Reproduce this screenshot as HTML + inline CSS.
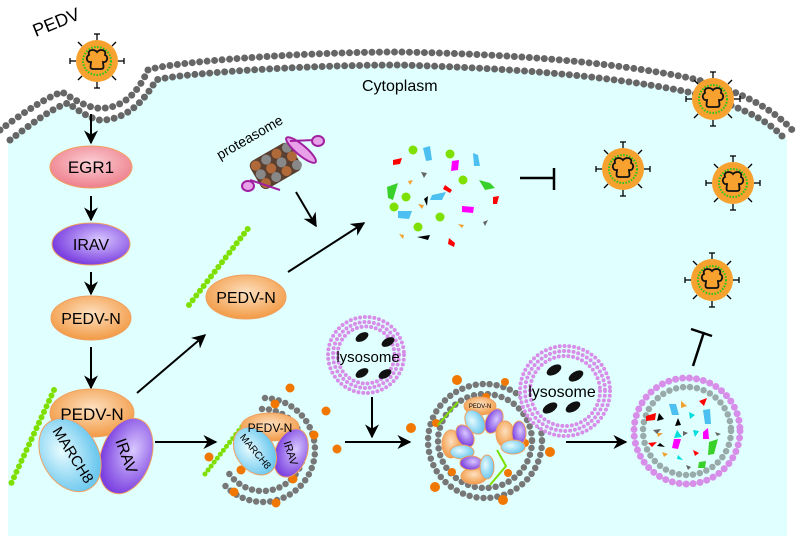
<!DOCTYPE html>
<html><head><meta charset="utf-8"><style>
html,body{margin:0;padding:0;background:#fff}
svg{display:block}
text{font-family:"Liberation Sans",sans-serif}
</style></head><body>
<svg width="797" height="536" viewBox="0 0 797 536" xmlns="http://www.w3.org/2000/svg">
<defs>
<radialGradient id="gp" cx="50%" cy="40%" r="60%"><stop offset="0" stop-color="#fbd0d6"/><stop offset="1" stop-color="#ee7f8c"/></radialGradient>
<radialGradient id="gv" cx="60%" cy="40%" r="60%"><stop offset="0" stop-color="#d9c8ff"/><stop offset="1" stop-color="#7a3fe0"/></radialGradient>
<radialGradient id="go" cx="50%" cy="40%" r="60%"><stop offset="0" stop-color="#fde0c0"/><stop offset="1" stop-color="#f29a44"/></radialGradient>
<radialGradient id="gb" cx="40%" cy="40%" r="60%"><stop offset="0" stop-color="#e6fbff"/><stop offset="1" stop-color="#6cc8ee"/></radialGradient>
<marker id="ar" viewBox="0 0 10 10" refX="9" refY="5" markerWidth="7" markerHeight="7" markerUnits="userSpaceOnUse" orient="auto"><path d="M0,0 L10,5 L0,10 L3,5z" fill="#000"/></marker>
<marker id="ar2" viewBox="0 0 10 10" refX="9" refY="5" markerWidth="14" markerHeight="14" markerUnits="userSpaceOnUse" orient="auto"><path d="M0,0 L10,5 L0,10 L3,5z" fill="#000"/></marker>
<g id="vir">
 <g stroke="#000" stroke-width="1.3">
  <line x1="0" y1="-21" x2="0" y2="-27"/><line x1="0" y1="21" x2="0" y2="27"/><line x1="-21" y1="0" x2="-27" y2="0"/><line x1="21" y1="0" x2="27" y2="0"/>
  <line x1="15" y1="-15" x2="19" y2="-19"/><line x1="-15" y1="-15" x2="-19" y2="-19"/><line x1="15" y1="15" x2="19" y2="19"/><line x1="-15" y1="15" x2="-19" y2="19"/>
  <line x1="-3" y1="-27" x2="3" y2="-27"/><line x1="-3" y1="27" x2="3" y2="27"/><line x1="-27" y1="-3" x2="-27" y2="3"/><line x1="27" y1="-3" x2="27" y2="3"/>
 </g>
 <circle r="21" fill="#f7a12e"/>
 <circle r="14" fill="none" stroke="#22c820" stroke-width="2" stroke-dasharray="1.5 1.5"/>
 <path d="M-8,-6 C-10,-12 -2,-12 0,-9 C2,-12 10,-12 8,-6 C12,-4 10,2 6,1 C6,4 8,8 4,8 L-4,8 C-8,8 -6,4 -6,1 C-10,2 -12,-4 -8,-6z" fill="none" stroke="#111" stroke-width="1.8"/>
</g>
</defs>

<path d="M8,140 L10,138 C40,120 60,103 68,103 C80,110 95,122 105,120 C125,118 140,105 155,78 C170,72 300,64 400,65 C500,68 600,74 690,92 C740,104 770,118 787,140 L787,536 L8,536z" fill="#e0ffff"/>
<g fill="none" stroke="#666" stroke-width="7" stroke-linecap="round" stroke-dasharray="0 7.5">
<path d="M0,130 C20,115 45,98 62,92 C75,100 90,110 105,108 C125,106 138,92 148,70 C170,62 300,52 400,52 C500,54 600,60 690,78 C740,90 775,110 794,132"/>
<path d="M10,140 C30,125 52,108 68,103 C80,112 95,122 105,120 C125,118 142,105 156,80 C175,74 300,65 400,65 C500,68 600,74 688,92 C735,104 765,118 782,136"/>
</g>
<use href="#vir" x="97" y="61"/>
<text x="32" y="30" font-size="18" transform="rotate(-22 52 24)">PEDV</text>
<text x="362" y="91" font-size="16">Cytoplasm</text>

<g stroke="#000" stroke-width="2" marker-end="url(#ar2)">
<line x1="91" y1="114" x2="91" y2="143"/>
<line x1="91" y1="196" x2="91" y2="220"/>
<line x1="91" y1="272" x2="91" y2="294"/>
<line x1="91" y1="347" x2="91" y2="388"/>
<line x1="137" y1="393" x2="205" y2="335"/>
<line x1="288" y1="272" x2="364" y2="223"/>
<line x1="296" y1="192" x2="316" y2="226"/>
<line x1="155" y1="442" x2="216" y2="442"/>
<line x1="372" y1="397" x2="372" y2="437"/>
<line x1="345" y1="442" x2="410" y2="442"/>
<line x1="566" y1="442" x2="626" y2="442"/>
</g>
<ellipse cx="91" cy="167" rx="41" ry="21" fill="url(#gp)" stroke="#f0a060"/>
<text x="91" y="173" font-size="17" text-anchor="middle">EGR1</text>
<ellipse cx="91" cy="244" rx="39" ry="21" fill="url(#gv)" stroke="#f0a060"/>
<text x="91" y="250" font-size="16" text-anchor="middle" fill="#000">IRAV</text>
<ellipse cx="91" cy="318" rx="40" ry="22" fill="url(#go)" stroke="#f0a060"/>
<text x="91" y="324" font-size="16" text-anchor="middle">PEDV-N</text>

<line x1="54" y1="390" x2="10" y2="486" stroke="#7ee000" stroke-width="6" stroke-linecap="round" stroke-dasharray="0 6"/>
<ellipse cx="92" cy="413" rx="42" ry="24" fill="url(#go)" stroke="#f0a060"/>
<ellipse cx="126" cy="456" rx="25" ry="39" transform="rotate(20 126 456)" fill="url(#gv)" stroke="#f0a060"/>
<ellipse cx="70" cy="455" rx="28" ry="39" transform="rotate(-30 70 455)" fill="url(#gb)" stroke="#f0a060"/>
<text x="92" y="420" font-size="17" text-anchor="middle">PEDV-N</text>
<text x="73" y="460" font-size="15" text-anchor="middle" transform="rotate(58 73 455)">MARCH8</text>
<text x="126" y="461" font-size="16" text-anchor="middle" transform="rotate(70 126 456)">IRAV</text>

<line x1="189" y1="305" x2="250" y2="226" stroke="#7ee000" stroke-width="6" stroke-linecap="round" stroke-dasharray="0 6"/>
<ellipse cx="246" cy="297" rx="40" ry="22" fill="url(#go)" stroke="#f0a060"/>
<text x="246" y="303" font-size="16" text-anchor="middle">PEDV-N</text>

<text x="220" y="160" font-size="14" transform="rotate(-30 220 160)">proteasome</text>
<g transform="rotate(-30 275 165)">
<rect x="252" y="150" width="46" height="32" rx="6" fill="#5a4030"/>
<g fill="#b06a3a">
<circle cx="258" cy="156" r="5"/><circle cx="270" cy="156" r="5" fill="#888"/><circle cx="282" cy="156" r="5"/><circle cx="294" cy="156" r="5" fill="#888"/>
<circle cx="258" cy="166" r="5" fill="#888"/><circle cx="270" cy="166" r="5"/><circle cx="282" cy="166" r="5" fill="#888"/><circle cx="294" cy="166" r="5"/>
<circle cx="258" cy="176" r="5"/><circle cx="270" cy="176" r="5" fill="#888"/><circle cx="282" cy="176" r="5"/><circle cx="294" cy="176" r="5" fill="#888"/>
</g>
</g>
<g stroke="#a020a0" stroke-width="2" fill="#e8a0e8">
<ellipse cx="301" cy="150" rx="5" ry="19" transform="rotate(-50 301 150)"/>
<line x1="290" y1="141" x2="315" y2="140"/><ellipse cx="318" cy="141" rx="6" ry="5"/>
<line x1="250" y1="180" x2="280" y2="190"/><ellipse cx="248" cy="186" rx="6" ry="5"/>
</g>

<g>
<circle cx="413" cy="150" r="4.5" fill="#7ee000"/><circle cx="450" cy="154" r="4.5" fill="#7ee000"/><circle cx="463" cy="180" r="4.5" fill="#7ee000"/>
<circle cx="406" cy="197" r="4.5" fill="#7ee000"/><circle cx="394" cy="207" r="4.5" fill="#7ee000"/><circle cx="440" cy="217" r="4.5" fill="#7ee000"/><circle cx="418" cy="227" r="4.5" fill="#7ee000"/>
<polygon points="423,148 430,146 432,160 426,161" fill="#4cc0f0"/><polygon points="473,153 478,155 480,166 474,166" fill="#4cc0f0"/>
<polygon points="432,195 446,192 442,200 430,200" fill="#4cc0f0"/><polygon points="398,211 412,211 409,219 398,218" fill="#4cc0f0"/>
<polygon points="393,160 402,158 400,164 393,165" fill="#f00"/><polygon points="445,185 452,190 450,193 443,189" fill="#f00"/><polygon points="493,197 499,196 497,204 493,204" fill="#f00"/><polygon points="449,238 455,243 454,247 448,244" fill="#f00"/>
<polygon points="452,161 459,160 458,170 451,171" fill="#f0f"/><polygon points="462,206 474,207 473,213 462,212" fill="#f0f"/>
<polygon points="479,180 490,183 495,188 485,190" fill="#3ad02a"/><polygon points="387,187 398,183 393,200 388,198" fill="#3ad02a"/>
<polygon points="418,204 424,205 422,209" fill="#f0a030"/><polygon points="408,181 413,180 410,185" fill="#f0a030"/><polygon points="458,224 464,225 462,228" fill="#f0a030"/><polygon points="399,234 404,235 403,239" fill="#f0a030"/>
<polygon points="421,172 427,173 424,178" fill="#666"/><polygon points="483,222 488,220 485,226" fill="#666"/>
<polygon points="424,199 428,196 427,206" fill="#000"/><polygon points="417,237 430,235 428,240" fill="#000"/>
</g>
<g stroke="#000" stroke-width="2.5"><line x1="520" y1="178" x2="553" y2="178"/><line x1="554" y1="168" x2="554" y2="190"/>
<line x1="693" y1="366" x2="704" y2="332"/><line x1="691" y1="329" x2="712" y2="336"/></g>

<use href="#vir" x="713" y="99"/>
<use href="#vir" x="623" y="169"/>
<use href="#vir" x="733" y="183"/>
<use href="#vir" x="712" y="280"/>

<!-- autophagosome -->
<g fill="none" stroke="#777" stroke-width="6.5" stroke-linecap="round" stroke-dasharray="0 7">
<path d="M265,398 A52,52 0 1 1 222,482"/>
<path d="M262,409 A41,41 0 1 1 228,472"/>
</g>
<line x1="205" y1="474" x2="247" y2="420" stroke="#7ee000" stroke-width="5" stroke-linecap="round" stroke-dasharray="0 5"/>
<g fill="#f07800"><circle cx="290" cy="388" r="4.5"/><circle cx="275" cy="404" r="4.5"/><circle cx="326" cy="411" r="4.5"/><circle cx="314" cy="435" r="4.5"/><circle cx="337" cy="449" r="4.5"/><circle cx="293" cy="479" r="4.5"/><circle cx="241" cy="470" r="4.5"/><circle cx="209" cy="457" r="4.5"/><circle cx="234" cy="492" r="4.5"/><circle cx="276" cy="503" r="4.5"/></g>
<ellipse cx="270" cy="427" rx="29" ry="14" fill="url(#go)" stroke="#f0a060"/>
<ellipse cx="291" cy="453" rx="16" ry="25" transform="rotate(20 291 453)" fill="url(#gv)" stroke="#f0a060"/>
<ellipse cx="255" cy="451" rx="19" ry="26" transform="rotate(-35 255 451)" fill="url(#gb)" stroke="#f0a060"/>
<text x="270" y="432" font-size="12" text-anchor="middle">PEDV-N</text>
<text x="256" y="455" font-size="10" text-anchor="middle" transform="rotate(50 256 451)">MARCH8</text>
<text x="291" y="457" font-size="11" text-anchor="middle" transform="rotate(72 291 453)">IRAV</text>

<!-- lysosome 1 -->
<g fill="none" stroke="#d78ee8" stroke-width="4" stroke-linecap="round" stroke-dasharray="0 4.8"><circle cx="366" cy="355" r="38"/><circle cx="366" cy="355" r="33"/><circle cx="366" cy="355" r="28.5"/></g>
<g fill="#111"><ellipse cx="362" cy="337" rx="7" ry="4" transform="rotate(-30 362 337)"/><ellipse cx="388" cy="342" rx="7" ry="4" transform="rotate(-30 388 342)"/><ellipse cx="362" cy="373" rx="7" ry="4" transform="rotate(-30 362 373)"/><ellipse cx="385" cy="374" rx="7" ry="4" transform="rotate(-30 385 374)"/></g>
<text x="368" y="362" font-size="15" text-anchor="middle">lysosome</text>

<!-- autolysosome -->
<g fill="none" stroke="#777" stroke-width="6.5" stroke-linecap="round" stroke-dasharray="0 7"><circle cx="485" cy="441" r="57"/><circle cx="485" cy="441" r="47"/></g>
<g fill="#f07800"><circle cx="457" cy="380" r="5"/><circle cx="505" cy="382" r="4"/><circle cx="411" cy="428" r="5"/><circle cx="436" cy="423" r="4"/><circle cx="550" cy="452" r="5"/><circle cx="525" cy="443" r="4"/><circle cx="435" cy="487" r="5"/><circle cx="508" cy="473" r="4"/><circle cx="503" cy="500" r="5"/><circle cx="486" cy="397" r="4"/><circle cx="452" cy="472" r="4"/></g>
<g stroke="#7ee000" stroke-width="2" fill="none"><path d="M458,402 L438,425"/><path d="M490,485 L506,466 L497,450"/></g>
<g font-size="6" text-anchor="middle">
<ellipse cx="480" cy="406" rx="16" ry="9" fill="url(#go)" stroke="#f0a060"/>
<ellipse cx="494" cy="421" rx="8" ry="13" transform="rotate(25 494 421)" fill="url(#gv)" stroke="#f0a060"/>
<ellipse cx="475" cy="422" rx="9" ry="13" transform="rotate(-30 475 422)" fill="url(#gb)" stroke="#f0a060"/>
<text x="480" y="408">PEDV-N</text>
<ellipse cx="451" cy="444" rx="9" ry="14" fill="url(#go)" stroke="#f0a060"/>
<ellipse cx="465" cy="436" rx="8" ry="12" transform="rotate(-30 465 436)" fill="url(#gv)" stroke="#f0a060"/>
<ellipse cx="462" cy="452" rx="12" ry="7" fill="url(#gb)" stroke="#f0a060"/>
<ellipse cx="505" cy="434" rx="9" ry="13" fill="url(#go)" stroke="#f0a060"/>
<ellipse cx="519" cy="433" rx="7" ry="12" fill="url(#gv)" stroke="#f0a060"/>
<ellipse cx="513" cy="447" rx="12" ry="7" fill="url(#gb)" stroke="#f0a060"/>
<ellipse cx="474" cy="476" rx="13" ry="8" fill="url(#go)" stroke="#f0a060"/>
<ellipse cx="471" cy="463" rx="11" ry="7" fill="url(#gv)" stroke="#f0a060"/>
<ellipse cx="487" cy="467" rx="7" ry="12" fill="url(#gb)" stroke="#f0a060"/>
</g>
<!-- lysosome 2 -->
<circle cx="565" cy="391" r="45" fill="#e0ffff"/>
<g fill="none" stroke="#d78ee8" stroke-width="4" stroke-linecap="round" stroke-dasharray="0 4.8"><circle cx="565" cy="391" r="45"/><circle cx="565" cy="391" r="40"/><circle cx="565" cy="391" r="35"/></g>
<g fill="#111"><ellipse cx="554" cy="370" rx="8" ry="4.5" transform="rotate(-30 554 370)"/><ellipse cx="576" cy="376" rx="8" ry="4.5" transform="rotate(-30 576 376)"/><ellipse cx="550" cy="408" rx="8" ry="4.5" transform="rotate(-30 550 408)"/><ellipse cx="573" cy="407" rx="8" ry="4.5" transform="rotate(-30 573 407)"/></g>
<text x="562" y="397" font-size="16" text-anchor="middle">lysosome</text>

<!-- final degradation -->
<g fill="none" stroke-linecap="round" stroke-dasharray="0 7"><circle cx="687" cy="431" r="53" stroke="#d78ee8" stroke-width="7"/><circle cx="687" cy="431" r="44" stroke="#9aa" stroke-width="6.5"/></g>
<g>
<polygon points="646,416 656,413 655,420 646,421" fill="#f00"/><polygon points="659,413 664,419 657,421" fill="#000"/><polygon points="669,404 676,404 679,415 672,415" fill="#4cc0f0"/><polygon points="681,401 687,406 681,408" fill="#f0a030"/>
<polygon points="699,401 707,398 704,406" fill="#f00"/><polygon points="703,410 710,409 711,424 705,424" fill="#4cc0f0"/><polygon points="689,412 695,415 690,419" fill="#0dd"/><polygon points="678,418 681,425 675,426" fill="#000"/>
<polygon points="653,430 661,429 657,434" fill="#666"/><polygon points="657,433 663,433 658,437" fill="#f0a030"/><polygon points="677,430 682,437 674,438" fill="#0dd"/><polygon points="683,431 688,433 683,436" fill="#666"/>
<polygon points="693,430 699,431 695,437" fill="#0dd"/><polygon points="703,432 708,428 709,439 703,439" fill="#f0f"/><polygon points="715,432 721,434 717,436" fill="#666"/>
<polygon points="648,443 657,442 652,447" fill="#f00"/><polygon points="660,443 665,447 657,446" fill="#000"/><polygon points="674,439 681,439 678,449 672,448" fill="#f0f"/>
<polygon points="709,442 718,439 714,454 708,455" fill="#3ad02a"/><polygon points="693,450 699,453 695,456" fill="#f00"/><polygon points="662,452 668,454 664,457" fill="#f0a030"/><polygon points="678,455 683,460 677,459" fill="#0dd"/>
<polygon points="699,462 706,461 705,468 698,468" fill="#3ad02a"/><polygon points="686,465 691,467 688,470" fill="#666"/>
</g>
</svg>
</body></html>
